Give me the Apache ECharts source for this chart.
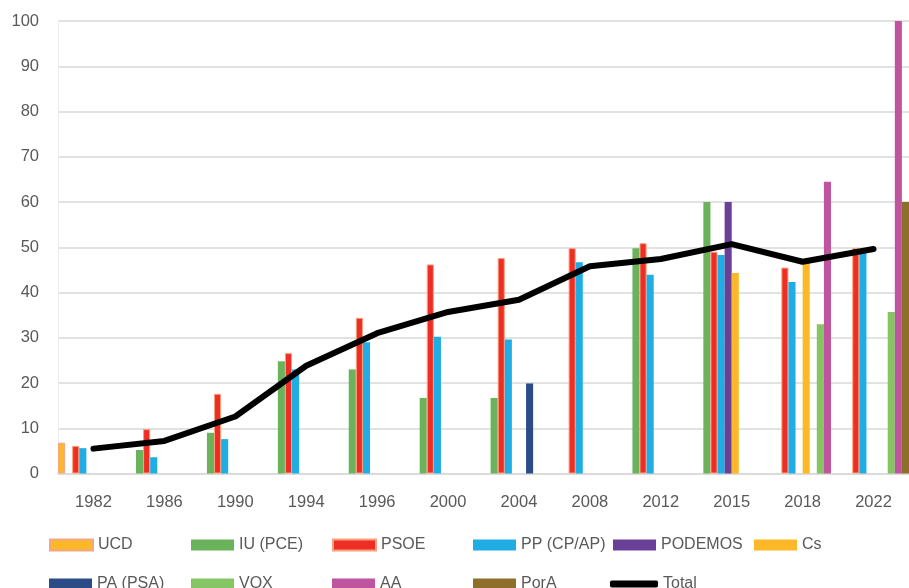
<!DOCTYPE html>
<html>
<head>
<meta charset="utf-8">
<script src="https://cdn.jsdelivr.net/npm/echarts@6/dist/echarts.min.js"></script>
<style>html,body{margin:0;padding:0;background:#fff;}#c{width:909px;height:588px;}</style>
</head>
<body>
<div id="c"></div>
<script>
var categories = ['1982','1986','1990','1994','1996','2000','2004','2008','2012','2015','2018','2022'];
var yTicks = [0,10,20,30,40,50,60,70,80,90,100];
var UCD     = [6.8, null, null, null, null, null, null, null, null, null, null, null];
var IU      = [null, 5.2, 9.0, 24.8, 23.0, 16.7, 16.7, null, 49.8, 60, null, null];
var PSOE    = [6.1, 9.8, 17.6, 26.6, 34.4, 46.2, 47.6, 49.8, 50.9, 49.0, 45.5, 49.8];
var PP      = [5.6, 3.6, 7.6, 23.0, 29.0, 30.2, 29.6, 46.7, 43.9, 48.3, 42.3, 49.5];
var PODEMOS = [null, null, null, null, null, null, null, null, null, 60, null, null];
var Cs      = [null, null, null, null, null, null, null, null, null, 44.3, 46.5, null];
var PA      = [null, null, null, null, null, null, 19.9, null, null, null, null, null];
var VOX     = [null, null, null, null, null, null, null, null, null, null, 33.0, 35.7];
var AA      = [null, null, null, null, null, null, null, null, null, null, 64.5, 100];
var PorA    = [null, null, null, null, null, null, null, null, null, null, null, 60];
var Total   = [5.5, 7.2, 12.6, 23.8, 31.0, 35.7, 38.4, 45.8, 47.4, 50.7, 46.8, 49.6];

var barDefs = [
  ['UCD', UCD, '#FBB829', '#F4A582'],
  ['IU (PCE)', IU, '#6AB35B', null],
  ['PSOE', PSOE, '#EE2E24', '#F7A07C'],
  ['PP (CP/AP)', PP, '#1FADE3', null],
  ['PODEMOS', PODEMOS, '#6A3F98', null],
  ['Cs', Cs, '#FDB827', null],
  ['PA (PSA)', PA, '#2B4C87', null],
  ['VOX', VOX, '#86C563', null],
  ['AA', AA, '#BE559E', null],
  ['PorA', PorA, '#8E6E2B', null]
];
var font = 'Liberation Sans';
var series = barDefs.map(function(d){
  var is = {color: d[2]};
  if (d[3]) { is.borderColor = d[3]; is.borderWidth = 1; }
  return {name: d[0], type: 'bar', data: d[1], barGap: '0%', barCategoryGap: '0%', itemStyle: is};
});
series.push({name: 'Total', type: 'line', data: Total, symbol: 'none', z: 5,
  itemStyle: {color: '#000'},
  lineStyle: {color: '#000', width: 6, cap: 'round', join: 'round'}});

var legendPos = [
  ['UCD', 49, 0], ['IU (PCE)', 191, 0], ['PSOE', 332, 0], ['PP (CP/AP)', 473, 0], ['PODEMOS', 613, 0], ['Cs', 754, 0],
  ['PA (PSA)', 49, 1], ['VOX', 191, 1], ['AA', 332, 1], ['PorA', 473, 1], ['Total', 610, 1]
];
var legends = legendPos.map(function(l){
  var isTotal = l[0] === 'Total';
  return {
    data: [l[0]], left: l[1], top: l[2] === 0 ? 537 : 576, padding: 0,
    icon: isTotal ? 'roundRect' : 'rect',
    itemWidth: isTotal ? 48 : 43, itemHeight: isTotal ? 7 : 11,
    textStyle: {fontFamily: font, fontSize: 16, color: '#595959'},
    selectedMode: false
  };
});

var chart = echarts.init(document.getElementById('c'), null, {renderer: 'canvas'});
chart.setOption({
  animation: false,
  backgroundColor: '#fff',
  grid: {left: 58, right: -1, top: 21, bottom: 114.5, containLabel: false},
  legend: legends,
  xAxis: {
    type: 'category', data: categories,
    axisLine: {show: true, lineStyle: {color: '#d9d9d9', width: 1.5}},
    axisTick: {show: false},
    axisLabel: {fontFamily: font, fontSize: 16.5, color: '#595959', margin: 20}
  },
  yAxis: {
    type: 'value', min: yTicks[0], max: yTicks[yTicks.length-1], interval: 10,
    axisLine: {show: true, lineStyle: {color: '#ececec', width: 1}},
    axisTick: {show: false},
    splitLine: {lineStyle: {color: '#d9d9d9', width: 1.5}},
    axisLabel: {fontFamily: font, fontSize: 16.5, color: '#595959', margin: 19}
  },
  series: series
});
</script>
</body>
</html>
